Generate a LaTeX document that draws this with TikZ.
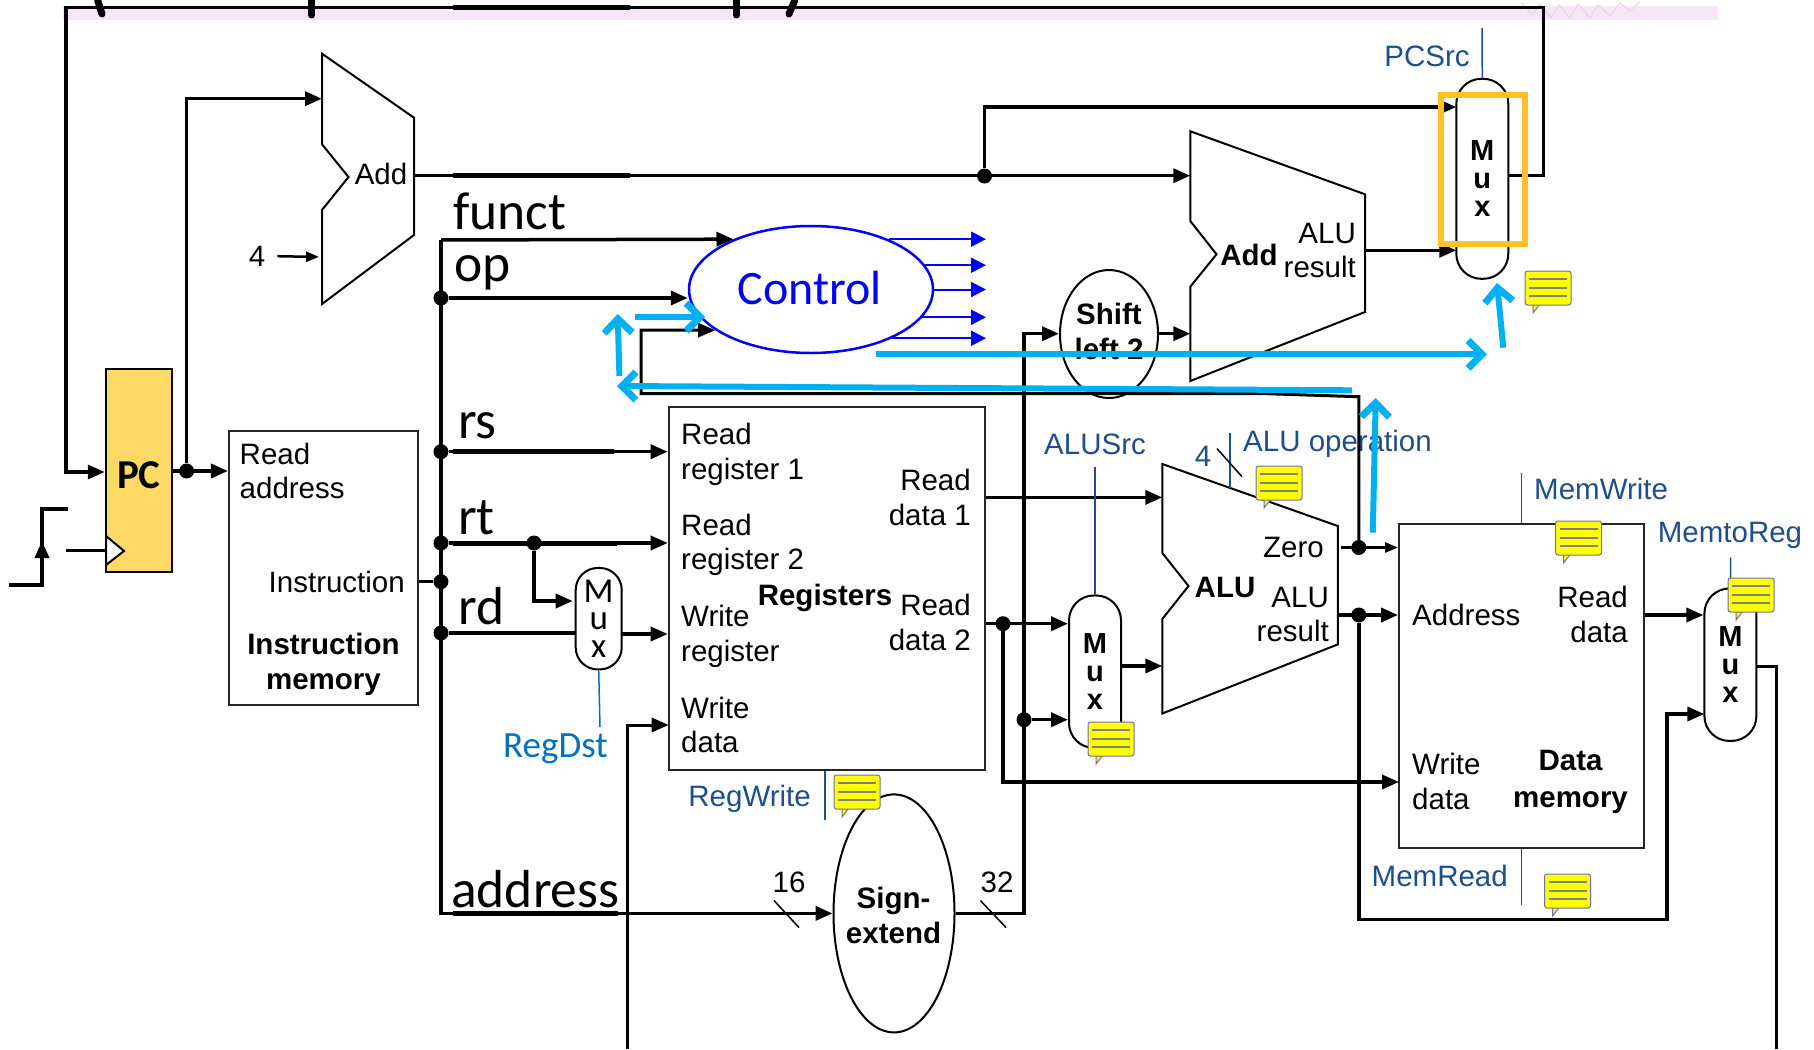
\documentclass[tikz,border=0pt]{standalone}
\usepackage{fontspec}
\setmainfont{Liberation Sans}
\newfontfamily\calibri{Carlito}
\usetikzlibrary{arrows.meta,positioning,calc,shapes.geometric}
\definecolor{ctrlblue}{RGB}{0,0,255}
\definecolor{sigblue}{RGB}{31,78,140}
\definecolor{dstblue}{RGB}{0,112,192}
\definecolor{hlcyan}{RGB}{0,176,240}
\definecolor{pcfill}{RGB}{255,217,102}
\definecolor{hlorange}{RGB}{255,192,40}
\definecolor{pinkband}{RGB}{247,230,247}
\definecolor{pinkzig}{RGB}{240,205,240}
\definecolor{bubyel}{RGB}{255,255,0}
\definecolor{bubedge}{RGB}{110,110,180}
\tikzset{
  >={Triangle[length=17pt,width=14pt]},
  every node/.style={font=\fontsize{29.5}{34.5}\selectfont,inner sep=0pt},
  wire/.style={line width=3.5pt},
  midwire/.style={line width=3pt},
  thinwire/.style={line width=2.5pt,>={Triangle[length=13pt,width=10pt]}},
  ctrlwire/.style={draw=ctrlblue,line width=2pt,->,>={Triangle[length=15pt,width=15pt]}},
  sigline/.style={draw=sigblue,line width=1.5pt},
  slash/.style={line width=1.5pt},
  unit/.style={draw=black,line width=2pt},
  dot/.style={circle,fill=black,minimum size=15pt},
  box/.style={draw=black!85,line width=2pt,rectangle},
  oval/.style={draw=black,line width=2pt,ellipse},
  muxbox/.style={draw=black,line width=2pt,rectangle,rounded corners=25pt,align=center,
                 minimum width=52pt,font=\fontsize{29}{28}\selectfont\bfseries},
  bold/.style={font=\fontsize{29.5}{35}\selectfont\bfseries,align=center},
  big/.style={font=\fontsize{53.5}{53.5}\selectfont\calibri,anchor=base west},
  sig/.style={text=sigblue},
  hlarrow/.style={draw=hlcyan,line width=6pt,-{Straight Barb[length=14pt,width=28pt,line width=7pt]}},
  bubble/.pic={
    \draw[fill=bubyel,draw=bubedge,line width=1pt] (-15,-16) -- (-15,-25) -- (-8,-16);
    \draw[fill=bubyel,draw=bubedge,line width=1pt,rounded corners=2.5pt] (-23,17) rectangle (23,-17);
    \foreach \ly in {9,0,-8} \draw[black!50,line width=1.5pt] (-19,\ly) -- (19,\ly);
  },
}
\begin{document}
\begin{tikzpicture}[x=1pt,y=1pt]
  \useasboundingbox (0,1) rectangle (1814,-1048);

  % strip left over at the top
  \fill[pinkband] (63,-5) rectangle (1718,-19);
  \draw[pinkzig,line width=1pt] (1522,-2) -- (1532,-14) -- (1540,-3) -- (1551,-17) -- (1559,-4) -- (1570,-17)
    -- (1578,-3) -- (1590,-17) -- (1598,-4) -- (1610,-15) -- (1620,-2) -- (1630,-10) -- (1640,0);
  \foreach \xa/\ya/\xb/\yb in {97.6/1/102/-13, 311.7/1/311.7/-14, 736.5/1/736.5/-14, 795/1/789/-13}
    \draw[line width=7pt,line cap=round] (\xa,\ya) -- (\xb,\yb);

  % units
  \node[box,fill=pcfill,draw=black,minimum width=66pt,minimum height=203pt] (pc) at (138.8,-469.5) {};
  \node[font=\fontsize{41}{41}\selectfont\calibri\bfseries] (pclbl) at (138.8,-474.5) {PC};
  \draw[fill=white,draw=black,line width=2pt] (106,-535) -- (124,-550) -- (106,-564) -- cycle;
  \node[box,minimum width=189.5pt,minimum height=274.5pt] (im) at (323.7,-567.2) {};
  \node[box,minimum width=315.8pt,minimum height=363pt] (regs) at (826.6,-587.5) {};
  \node[box,minimum width=244.8pt,minimum height=324pt] (dm) at (1521.4,-685) {};

  \draw[unit] (322,-52.7) -- (414,-116.7) -- (414,-234) -- (322,-303) -- (322,-209) -- (348.5,-176) -- (322,-143.3) -- cycle;
  \draw[unit] (1190.3,-130.3) -- (1365,-193.3) -- (1365,-311) -- (1190.3,-380) -- (1190.3,-285.7) -- (1216.5,-253.3) -- (1190.3,-220) -- cycle;
  \draw[unit] (1162.3,-463) -- (1337.8,-525) -- (1337.8,-643.4) -- (1162.3,-712.5) -- (1162.3,-618) -- (1188.5,-585) -- (1162.3,-552) -- cycle;

  \node[draw=ctrlblue,line width=2.5pt,ellipse,minimum width=244pt,minimum height=127pt] (control) at (811,-288.5) {};
  \node[font=\fontsize{48}{48}\selectfont\calibri,text=ctrlblue] (ctrllbl) at (809.5,-287) {Control};
  \node[oval,minimum width=98pt,minimum height=128pt,bold,align=center] (shift) at (1109,-333) {};
  \node[bold] (shiftlbl) at (1109,-330) {Shift\\left 2};
  \node[oval,minimum width=121pt,minimum height=238pt] (signext) at (894,-912.4) {};
  \node[bold] (signlbl) at (893.5,-914) {Sign-\\extend};

  \node[muxbox,minimum height=200pt] (pcmux) at (1482.3,-177.8) {M\\u\\x};
  \node[muxbox,minimum height=152.5pt] (amux) at (1095,-670.7) {M\\u\\x};
  \node[muxbox,minimum height=152.5pt] (mmux) at (1730.4,-663.7) {M\\u\\x};
  \node[muxbox,minimum width=46pt,minimum height=101.5pt,rounded corners=22pt,
        font=\fontsize{35}{27.5}\selectfont\calibri] (smux) at (598.7,-617.7) {M\\u\\x};

  % junctions
  \foreach \n/\x/\y in {dpc/186.6/470, dadd/984.5/175, dop/441/297, drs/441/450.7, drt/441/542, drt2/534/542,
                        dins/441/580.7, drd/441/632, drd2/1003/622.7, dsign/1024/718.7, dzero/1358.8/546.5, dres/1358.8/614}
    \node[dot] (\n) at (\x,-\y) {};

  % free ends and ports
  \foreach \n/\x/\y in {bustop/441/239, busbot/441/912.4, topr/1543.5/6.7, pcback/66/471, add1a/322/97.7, add1b/322/256,
                        add1o/414/174.7, add2a/1190.3/174.7, add2o/1365/249.3, add2c/1190.3/332.7, pcmuxa/1456.3/106,
                        pcmuxb/1456.3/249.3, pcmuxo/1508.3/174.7, sbus/1024/332.7, alua/1162.3/496.4, alub/1162.3/665,
                        aluz/1341/546.5, alur/1337.8/614, smuxa/572.7/600, smuxo/621.7/633, wdin/668.7/724, wdbot/627/1048,
                        dmwd/1399/781, mr1/1667/918.6, mmuxb/1704.4/713, mmuxo/1756.4/665, mmbot/1776/1048, ctrlend/986/0,
                        zb1/1358.8/395.7, zb2/1267/392.7, zb3/641/392.7, zb4/641/329, clka/9/584, clkb/42/508, clkc/68/508,
                        clkm/42/540, clkt/66/549.7, sigpc/1482/27, sigas/1095/466, sigop/1230/432, sigopb/1230/487, sigmw/1521.4/472.4,
                        sigmr/1521.4/904, sigmt/1730.7/556.5, sigrw/825/819, sigrd/600/726}
    \coordinate (\n) at (\x,-\y);

  % labels
  \node[anchor=base] (add1lbl) at (381,-183) {Add};
  \node (four) at (257,-255) {4};
  \node[bold] (add2lbl) at (1249,-254) {Add};
  \node[anchor=east,align=right] (add2res) at (1356,-249.5) {ALU\\result};
  \node[anchor=west,align=left] (imra) at (239.5,-470) {Read\\address};
  \node[anchor=east] (imins) at (405,-581) {Instruction};
  \node[bold] (imlbl) at (323.5,-663) {Instruction\\memory};
  \node[anchor=west,align=left] (rr1) at (681,-453.5) {Read\\register 1};
  \node[anchor=west,align=left] (rr2) at (681,-544) {Read\\register 2};
  \node[anchor=west,align=left] (wr) at (681,-635.5) {Write\\register};
  \node[anchor=west,align=left] (wd) at (681,-724) {Write\\data};
  \node[bold] (regslbl) at (825,-596.5) {Registers};
  \node[anchor=east,align=right] (rd1) at (971,-496.5) {Read\\data 1};
  \node[anchor=east,align=right] (rd2) at (971,-621.5) {Read\\data 2};
  \node[bold] (alulbl) at (1225,-586) {ALU};
  \node[anchor=east] (zero) at (1324,-546) {Zero};
  \node[anchor=east,align=right] (alures) at (1329,-613.5) {ALU\\result};
  \node[anchor=west] (addr) at (1412,-613.5) {Address};
  \node[anchor=east,align=right] (dmrd) at (1628,-613.5) {Read\\data};
  \node[anchor=west,align=left] (dmwdl) at (1412,-780.5) {Write\\data};
  \node[font=\fontsize{29.5}{37}\selectfont\bfseries,align=center] (dmlbl) at (1570.5,-780.5) {Data\\memory};
  \node (n16) at (789,-881) {16};
  \node (n32) at (997,-881) {32};

  \node[sig] (pcsrc) at (1427,-55) {PCSrc};
  \node[sig] (alusrc) at (1095,-443.5) {ALUSrc};
  \node[sig] (fourb) at (1203,-455) {4};
  \node[sig,anchor=west] (aluop) at (1243,-442.5) {ALU operation};
  \node[sig,anchor=west] (memwrite) at (1534,-488) {MemWrite};
  \node[sig] (memtoreg) at (1730,-534) {MemtoReg};
  \node[sig,anchor=east] (memread) at (1508,-875) {MemRead};
  \node[sig,anchor=east] (regwrite) at (811,-798) {RegWrite};
  \node[font=\fontsize{37}{37}\selectfont\calibri,text=dstblue,anchor=base west] (regdst) at (503,-756) {RegDst};

  \node[big] (funct) at (453,-228) {funct};
  \node[big] (op) at (454,-280) {op};
  \node[big] (rs) at (458,-437) {rs};
  \node[big] (rt) at (458,-533.5) {rt};
  \node[big] (rd) at (458,-623) {rd};
  \node[big] (address) at (451,-906) {address};

  % wires
  \draw[wire,->] (pcmuxo) -| (topr) -| (pcback) -- (pc.west |- pcback);
  \draw[wire,->] (pc.east |- dpc) -- (im.west |- dpc);
  \draw[wire,->] (dpc) |- (add1a);
  \draw[thinwire,->,shorten <=12pt,shorten >=3pt] (four.east) -- (add1b);
  \draw[wire,->] (add1o) -- (add2a);
  \draw[wire,->] (dadd) |- (pcmuxa);
  \draw[wire,->] (add2o) -- (pcmuxb);
  \draw[wire,->] (shift.east |- add2c) -- (add2c);
  \draw[wire,->] (signext.east) -| (sbus) -- (shift.west |- sbus);
  \draw[wire,->] (bustop) -- (busbot) -- (signext.west);
  \draw[wire,->] (bustop) -- (control.147);
  \draw[wire,->] (dop) -- (control.west |- dop);
  \draw[wire,->] (drs) -- (regs.west |- drs);
  \draw[wire,->] (drt) -- (regs.west |- drt);
  \draw[wire,->] (drt2) |- (smuxa);
  \draw[wire] (drd) -- (smux.west |- drd);
  \draw[wire,->] (smuxo) -- (regs.west |- smuxo);
  \draw[wire] (im.east |- dins) -- (dins);
  \draw[midwire,->] (wdbot) |- (wdin);
  \draw[wire,->] (regs.east |- alua) -- (alua);
  \draw[wire,->] (regs.east |- drd2) -- (amux.west |- drd2);
  \draw[wire,->] (drd2) |- (dmwd);
  \draw[wire,->] (dsign) -- (amux.west |- dsign);
  \draw[wire,->] (amux.east |- alub) -- (alub);
  \draw[thinwire,->] (aluz) -- (dm.west |- aluz);
  \draw[midwire,->] (dzero) -- (zb1) -- (zb2) -- (zb3) -- (zb4) -- (control.203.3);
  \draw[wire,->] (alur) -- (dm.west |- alur);
  \draw[wire,->] (dres) |- (mr1) |- (mmuxb);
  \draw[wire,->] (dm.east |- alur) -- (mmux.west |- alur);
  \draw[midwire] (mmuxo) -| (mmbot);
  \draw[wire] (clka) -| (clkb) -- (clkc);
  \draw[wire,->] (clka -| clkb) -- (clkm);
  \draw[thinwire] (clkt) -- (pc.west |- clkt);
  \foreach \a/\y in {33/239, 12.3/264, 0/290, -14.3/316.7, -31/336.7}
    \draw[ctrlwire] (control.\a) -- (control.\a -| ctrlend);

  % control signals
  \draw[sigline] (pcmux.north) -- (sigpc);
  \draw[sigline] (amux.north) -- (sigas);
  \draw[sigline] (sigop) -- (sigopb);
  \draw[sigline] (dm.north -| sigmw) -- (sigmw);
  \draw[sigline] (dm.south -| sigmr) -- (sigmr);
  \draw[sigline] (mmux.north) -- (sigmt);
  \draw[sigline] (regs.south -| sigrw) -- (sigrw);
  \draw[draw=dstblue,line width=1.5pt] (smux.south) -- (sigrd);
  \foreach \xa/\ya/\xb/\yb in {774/899.5/799/926.5, 980.4/899.6/1006/926.5, 1217/447.6/1242/475.7}
    \draw[slash] (\xa,-\ya) -- (\xb,-\yb);

  % thick parts of the old wires
  \foreach \y/\xb in {6.7/630, 174.7/630, 450.7/614, 542/617, 912.4/618}
    \draw[line width=5pt] (453,-\y) -- (\xb,-\y);

  % highlight
  \draw[hlorange,line width=6pt] (1441,-94) rectangle (1525,-243);
  \foreach \bx/\by in {1548/287, 1279/482, 1111/738, 1578.5/537, 1567.5/890, 1751/594, 857/791}
    \pic at (\bx,-\by) {bubble};
  \foreach \xa/\ya/\xb/\yb [count=\i] in {876/353.3/1487/353.3, 1503.3/346.7/1497/282, 1351.8/389.3/617/385,
                                          619.4/375/617.7/313, 635/316/705/316, 1372.8/531.6/1375.7/397}{
    \coordinate (hla\i) at (\xa,-\ya);
    \coordinate (hlb\i) at (\xb,-\yb);
    \draw[hlarrow] (hla\i) -- (hlb\i);
  }
\end{tikzpicture}
\end{document}
